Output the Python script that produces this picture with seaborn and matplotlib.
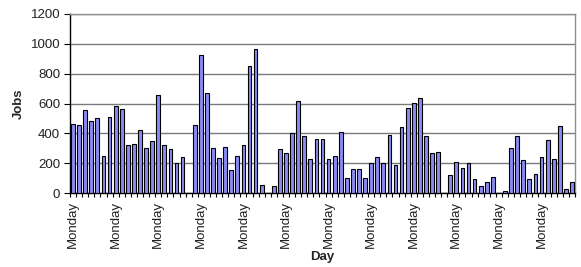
import numpy as np
import pandas as pd
import seaborn as sns
import matplotlib.pyplot as plt

# daily job counts, one value per day starting on a Monday
jobs = [
    462, 454, 554, 480, 503, 246, 510,
    585, 565, 322, 328, 420, 302, 349,
    655, 322, 293, 201, 239, 0, 454,
    925, 670, 302, 232, 310, 156, 248,
    322, 851, 963, 54, 3, 45, 295,
    268, 402, 617, 380, 226, 364, 364,
    226, 248, 407, 98, 163, 163, 98,
    199, 241, 199, 387, 185, 442, 568,
    601, 635, 380, 266, 273, 3, 123,
    206, 170, 199, 94, 45, 74, 107,
    3, 15, 302, 380, 219, 94, 129,
    241, 357, 226, 447, 27, 74,
]
weekdays = ["Monday", "Tuesday", "Wednesday", "Thursday", "Friday", "Saturday", "Sunday"]
day_names = [weekdays[i % 7] for i in range(len(jobs))]
y_ticks = [0, 200, 400, 600, 800, 1000, 1200]

df = pd.DataFrame({"day": range(len(jobs)), "name": day_names, "jobs": jobs})

sns.set_style("white")
plt.rcParams["font.family"] = ["Liberation Sans", "DejaVu Sans"]

fig = plt.figure(figsize=(5.81, 2.67), dpi=100)
ax = fig.add_axes([70 / 581, 1 - 193 / 267, 505 / 581, 179 / 267])

sns.barplot(data=df, x="day", y="jobs", color="#8a8af5", edgecolor="black",
            linewidth=0.8, width=0.62, saturation=1, ax=ax, zorder=3)

ax.set_ylim(0, 1200)
ax.set_xlim(-0.5, len(jobs) - 0.5)
ax.set_yticks(y_ticks)
ax.set_yticklabels([str(v) for v in y_ticks], fontsize=9.5, color="#222222")
ax.yaxis.grid(True, color="#7a7a7a", linewidth=1, zorder=0)
ax.set_axisbelow(True)

# labels every 7 days, small tick marks between every day
mondays = [i for i in range(len(jobs)) if day_names[i] == "Monday"]
ax.set_xticks(mondays)
ax.set_xticklabels([day_names[i] for i in mondays], rotation=90, fontsize=9.5, color="#222222")
ax.set_xticks(np.arange(len(jobs) + 1) - 0.5, minor=True)
ax.tick_params(axis="x", which="major", length=0, pad=6)
ax.tick_params(axis="x", which="minor", length=3, width=0.8, color="black", bottom=True)
ax.tick_params(axis="y", length=4, width=0.8, color="black", left=True, pad=3)

for side in ["top", "right"]:
    ax.spines[side].set_color("#909090")
    ax.spines[side].set_linewidth(1)
for side in ["left", "bottom"]:
    ax.spines[side].set_color("black")
    ax.spines[side].set_linewidth(1)

ax.set_xlabel("Day", fontsize=9.5, fontweight="bold", labelpad=2)
ax.set_ylabel("Jobs", fontsize=9.5, fontweight="bold", labelpad=4)

fig.savefig("out.png", dpi=100)
